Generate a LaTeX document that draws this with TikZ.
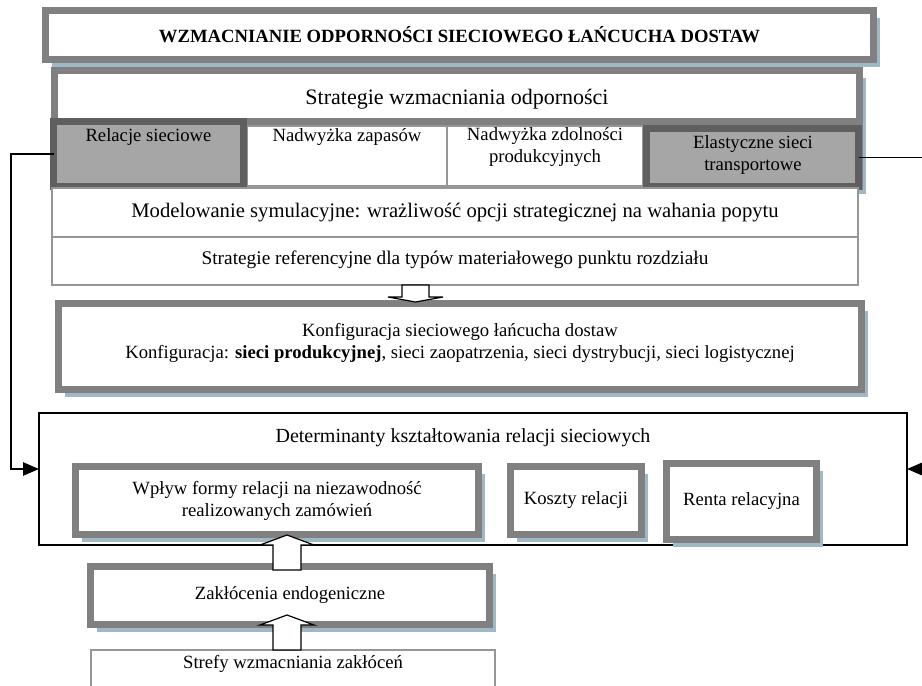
\documentclass[tikz,border=0pt]{standalone}
\usepackage{fontspec}
\setmainfont{Liberation Serif}
\usetikzlibrary{arrows.meta,calc,shadows}
\definecolor{frameg}{RGB}{128,128,128}
\definecolor{darkg}{RGB}{95,95,95}
\definecolor{cellg}{RGB}{166,166,166}
\definecolor{thing}{RGB}{150,150,150}
\definecolor{shad}{RGB}{160,184,198}
\tikzset{
  every node/.style={inner sep=0pt, outer sep=0pt, align=center},
  frm/.style={draw=frameg, line width=5.25pt, fill=white, rectangle},
  dfrm/.style={draw=darkg, line width=5.25pt, fill=cellg, rectangle},
  thinbox/.style={draw=thing, line width=1.1pt, fill=white, rectangle},
  sz/.style 2 args={minimum width={#1*0.75pt}, minimum height={#2*0.75pt}},
  shd/.style={drop shadow={shadow xshift=5pt, shadow yshift=-5.5pt, fill=shad, opacity=1}},
  conn/.style={draw=black, line width=1.2pt},
  endtri/.style={-{Triangle[length=12pt,width=10pt]}},
  harrow/.style={draw=black, line width=0.9pt, fill=white, line join=miter},
}
\begin{document}
\begin{tikzpicture}[x=0.75pt,y=-0.75pt, font=\fontsize{14}{16.5}\selectfont]
\useasboundingbox (0,0) rectangle (922,686);
\clip (0,0) rectangle (922,686);

% title
\node[frm, shd, sz={828}{49}, font=\fontsize{14}{16.5}\selectfont\bfseries] (title) at (459.5,35)
  {WZMACNIANIE ODPORNOŚCI SIECIOWEGO ŁAŃCUCHA DOSTAW};

% strategy panel
\node[frm, shd, sz={805}{116}] (strat) at (457,128.5) {};
\node[font=\fontsize{16.5}{19}\selectfont] (strattxt) at (457,99) {Strategie wzmacniania odporności};
\fill[frameg] (51,118) rectangle (863,126);

\node[thinbox, sz={200}{60}] (nz) at (347,156) {};
\node[thinbox, sz={196}{60}] (nzd) at (545,156) {};
\node[dfrm, sz={190}{65}] (rel) at (148.5,154) {};
\node[dfrm, sz={212}{58}] (ela) at (752.5,157.5) {};
\node (reltxt) at (148.5,137) {Relacje sieciowe};
\node (nztxt) at (347,137) {Nadwyżka zapasów};
\node (nzdtxt) at (545,147) {Nadwyżka zdolności\\produkcyjnych};
\node (elatxt) at (753,155) {Elastyczne sieci\\transportowe};

\node[thinbox, sz={806}{49}] (mod) at (455,212.5) {};
\node[font=\fontsize{15.5}{18}\selectfont] (modtxt) at (455,213)
  {Modelowanie symulacyjne: wrażliwość opcji strategicznej na wahania popytu};
\node[thinbox, sz={806}{48}] (ref) at (455,261) {};
\node[font=\fontsize{14.5}{17}\selectfont] (reftxt) at (455,260)
  {Strategie referencyjne dla typów materiałowego punktu rozdziału};

% configuration
\node[frm, shd, sz={803}{86}] (konf) at (460,346.5) {};
\node (konftxt) at (460,343)
  {Konfiguracja sieciowego łańcucha dostaw\\Konfiguracja: \textbf{sieci produkcyjnej}, sieci zaopatrzenia, sieci dystrybucji, sieci logistycznej};

\coordinate (dx) at (415.5,0);
\draw[harrow] (dx |- ref.south) ++(-13.5,0) -- ++(0,12) -- ++(-14,0) -- ++(27.5,5) -- ++(27.5,-5) -- ++(-14,0) -- ++(0,-12) -- cycle;

% determinants
\node[draw=black, line width=1.5pt, fill=white, sz={868}{132}] (det) at (473,479) {};
\node[font=\fontsize{15}{18}\selectfont] (dettxt) at (463,438) {Determinanty kształtowania relacji sieciowych};
\node[frm, shd, sz={403}{68}] (wp) at (277,500.5) {Wpływ formy relacji na niezawodność\\realizowanych zamówień};
\node[frm, shd, sz={131}{68}] (ko) at (576,500.5) {Koszty relacji};
\node[frm, shd, sz={150}{76}] (re) at (741.5,501.5) {Renta relacyjna};

% bottom
\node[frm, shd, sz={399}{58}] (zak) at (290,595.5) {Zakłócenia endogeniczne};
\node[thinbox, anchor=north, minimum width={404*0.75pt}, text height={15*0.75pt}, text depth={40*0.75pt}, inner ysep={3*0.75pt}] (stref) at (293,650) {Strefy wzmacniania zakłóceń};

\coordinate (ux) at (287,0);
\draw[harrow] (ux |- zak.north) ++(-14,3.5) -- ++(0,-25) -- ++(-13,0) -- ++(27,-10) -- ++(27,10) -- ++(-13,0) -- ++(0,25) -- cycle;
\draw[harrow] (ux |- stref.north) ++(-14,0) -- ++(0,-25) -- ++(-13,0) -- ++(27,-10) -- ++(27,10) -- ++(-13,0) -- ++(0,25) -- cycle;

% side connectors
\coordinate (lx) at (11,0);
\coordinate (rx) at (922,0);
\coordinate (detw) at ([yshift=7.5pt]det.west);
\coordinate (dete) at ([yshift=7.5pt]det.east);
\draw[conn, endtri] (rel.west) -- (lx |- rel.west) |- (detw);
\draw[conn] (ela.east) -- (rx |- ela.east);
\draw[conn, endtri] (rx |- dete) -- (dete);
\end{tikzpicture}
\end{document}
